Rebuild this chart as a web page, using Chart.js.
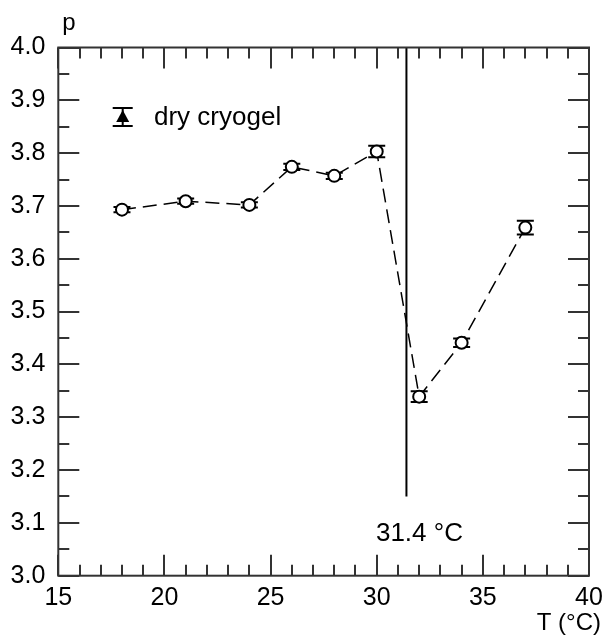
<!DOCTYPE html>
<html>
<head>
<meta charset="utf-8">
<script src="https://cdn.jsdelivr.net/npm/chart.js@4/dist/chart.umd.min.js"></script>
<style>
  html, body { margin: 0; padding: 0; background: #fff; }
  #wrap { width: 603px; height: 636px; position: relative; }
</style>
</head>
<body>
<div id="wrap"><canvas id="c" width="603" height="636"></canvas></div>
<script>
// ---- data ----
const temperatures = [18, 21, 24, 26, 28, 30, 32, 34, 37];
const pValues      = [3.693, 3.709, 3.702, 3.774, 3.757, 3.803, 3.339, 3.441, 3.659];
const pErrors      = [0.005, 0.005, 0.005, 0.006, 0.006, 0.011, 0.010, 0.008, 0.013];
const transitionT  = 31.4;
const transitionP  = [4.0, 3.15];
const transitionLabel = '31.4 °C';
const seriesLabel  = 'dry cryogel';
const xRange = [15, 40];
const yRange = [3.0, 4.0];
const xTitle = 'T (°C)';
const yTitle = 'p';

const FONT = '"Liberation Sans", Arial, Helvetica, sans-serif';
const AXIS_COLOR = '#333';

const decorPlugin = {
  id: 'decor',
  beforeDatasetsDraw(chart) {
    const ctx = chart.ctx;
    const xs = chart.scales.x, ys = chart.scales.y;
    ctx.save();
    ctx.strokeStyle = '#000';
    ctx.lineWidth = 2;
    for (let i = 0; i < temperatures.length; i++) {
      const px = xs.getPixelForValue(temperatures[i]);
      const top = ys.getPixelForValue(pValues[i] + pErrors[i]);
      const bot = ys.getPixelForValue(pValues[i] - pErrors[i]);
      ctx.beginPath();
      ctx.moveTo(px, top); ctx.lineTo(px, bot);
      ctx.moveTo(px - 8.5, top); ctx.lineTo(px + 8.5, top);
      ctx.moveTo(px - 8.5, bot); ctx.lineTo(px + 8.5, bot);
      ctx.stroke();
    }
    ctx.restore();
  },
  afterDraw(chart) {
    const ctx = chart.ctx;
    const a = chart.chartArea;
    const xs = chart.scales.x, ys = chart.scales.y;
    ctx.save();
    ctx.strokeStyle = AXIS_COLOR;
    ctx.lineWidth = 2;
    ctx.strokeRect(a.left, a.top, a.right - a.left, a.bottom - a.top);
    ctx.beginPath();
    for (let v = xRange[0]; v <= xRange[1]; v += 1) {
      const px = Math.round(xs.getPixelForValue(v));
      const len = (v % 5 === 0) ? 21 : 11;
      ctx.moveTo(px, a.bottom); ctx.lineTo(px, a.bottom - len);
      ctx.moveTo(px, a.top); ctx.lineTo(px, a.top + len);
    }
    for (let k = 0; k <= 20; k++) {
      const v = yRange[0] + k * 0.05;
      const py = Math.round(ys.getPixelForValue(v));
      const len = (k % 2 === 0) ? 21 : 11;
      ctx.moveTo(a.left, py); ctx.lineTo(a.left + len, py);
      ctx.moveTo(a.right, py); ctx.lineTo(a.right - len, py);
    }
    ctx.stroke();

    ctx.fillStyle = '#000';
    ctx.font = '24px ' + FONT;
    ctx.textBaseline = 'alphabetic';
    ctx.textAlign = 'left';
    ctx.fillText(yTitle, a.left + 4, 30);
    ctx.textAlign = 'right';
    ctx.fillText(xTitle, 601, 630);

    ctx.font = '26px ' + FONT;
    ctx.textAlign = 'center';
    ctx.fillText(transitionLabel, xs.getPixelForValue(transitionT) + 13, 541);

    const lx = 122.7, ly = 117;
    ctx.strokeStyle = '#000';
    ctx.lineWidth = 2;
    ctx.beginPath();
    ctx.moveTo(lx - 10, ly - 9); ctx.lineTo(lx + 10, ly - 9);
    ctx.moveTo(lx - 10, ly + 9); ctx.lineTo(lx + 10, ly + 9);
    ctx.moveTo(lx, ly - 9); ctx.lineTo(lx, ly + 9);
    ctx.stroke();
    ctx.beginPath();
    ctx.moveTo(lx, ly - 7); ctx.lineTo(lx + 6.5, ly + 5); ctx.lineTo(lx - 6.5, ly + 5);
    ctx.closePath();
    ctx.fillStyle = '#000';
    ctx.fill();
    ctx.textAlign = 'left';
    ctx.fillText(seriesLabel, 154, 125);
    ctx.restore();
  }
};

new Chart(document.getElementById('c'), {
  type: 'line',
  data: {
    datasets: [
      {
        label: seriesLabel,
        data: temperatures.map((t, i) => ({ x: t, y: pValues[i] })),
        borderColor: '#000',
        borderWidth: 1.5,
        borderDash: [14, 7],
        pointRadius: 6,
        pointBorderWidth: 2,
        pointBorderColor: '#000',
        pointBackgroundColor: '#fff',
        tension: 0
      },
      {
        label: 'transition',
        data: transitionP.map(p => ({ x: transitionT, y: p })),
        borderColor: '#000',
        borderWidth: 2,
        pointRadius: 0
      }
    ]
  },
  options: {
    responsive: false,
    animation: false,
    devicePixelRatio: 1,
    layout: { padding: { top: 47.5, right: 14, left: 0, bottom: 0 } },
    plugins: { legend: { display: false }, tooltip: { enabled: false } },
    scales: {
      x: {
        type: 'linear',
        min: xRange[0], max: xRange[1],
        grid: { display: false, drawTicks: false },
        border: { display: false },
        ticks: {
          stepSize: 5,
          color: '#000',
          font: { family: FONT, size: 25 },
          padding: 7,
          maxRotation: 0,
          autoSkip: false
        },
        afterFit(s) { s.height = 60.3; s.paddingLeft = 0; s.paddingRight = 0; }
      },
      y: {
        type: 'linear',
        min: yRange[0], max: yRange[1],
        grid: { display: false, drawTicks: false },
        border: { display: false },
        ticks: {
          stepSize: 0.1,
          color: '#000',
          font: { family: FONT, size: 25 },
          padding: 13,
          autoSkip: false,
          callback: v => Number(v).toFixed(1)
        },
        afterFit(s) { s.width = 58.3; s.paddingTop = 0; s.paddingBottom = 0; }
      }
    }
  },
  plugins: [decorPlugin]
});
</script>
</body>
</html>
